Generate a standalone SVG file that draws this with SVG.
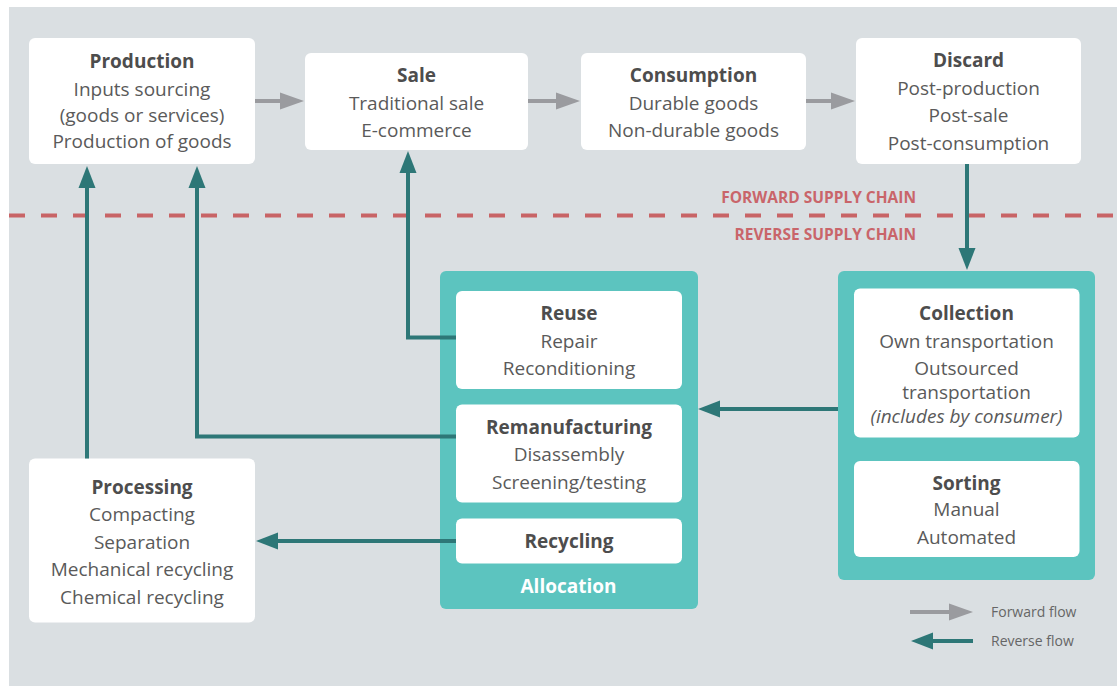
<svg xmlns="http://www.w3.org/2000/svg" width="1117" height="686" viewBox="0 0 1117 686">
<style>
.box{fill:#ffffff}
.panel{fill:#5cc4bf}
.t{font-family:"Open Sans","Liberation Sans",sans-serif;font-size:19px;fill:#5a5a5a;text-anchor:middle}
.b{font-weight:700;fill:#4d4d4d}
.i{font-style:italic}
.w{fill:#ffffff;font-weight:700}
.sc{font-family:"Open Sans","Liberation Sans",sans-serif;font-size:15.5px;font-weight:700;fill:#c9656a;text-anchor:end}
.lg{font-family:"Open Sans","Liberation Sans",sans-serif;font-size:14px;fill:#666666}
.rev{fill:none;stroke:#2d7777;stroke-width:4;marker-end:url(#th)}
.fwd{fill:none;stroke:#9a9b9f;stroke-width:4;marker-end:url(#gh)}
</style>
<defs>
<marker id="th" markerUnits="userSpaceOnUse" markerWidth="22" markerHeight="17" refX="0" refY="8.5" orient="auto" overflow="visible">
<path d="M0,0 L22,8.5 L0,17 Z" fill="#2d7777"/>
</marker>
<marker id="gh" markerUnits="userSpaceOnUse" markerWidth="24" markerHeight="17" refX="0" refY="8.5" orient="auto" overflow="visible">
<path d="M0,0 L24,8.5 L0,17 Z" fill="#9a9b9f"/>
</marker>
</defs>
<rect x="0" y="0" width="1117" height="686" fill="#ffffff"/>
<rect x="9" y="7" width="1108" height="679" fill="#dadfe2"/>
<line x1="9" y1="215.5" x2="1117" y2="215.5" stroke="#c86466" stroke-width="4" stroke-dasharray="16 16"/>
<text class="sc" x="916" y="203">FORWARD SUPPLY CHAIN</text>
<text class="sc" x="916" y="240">REVERSE SUPPLY CHAIN</text>
<g id="production">
<rect class="box" x="29" y="38" width="226" height="126" rx="6"/>
<text class="t b" x="142" y="68">Production</text>
<text class="t" x="142" y="96">Inputs sourcing</text>
<text class="t" x="142" y="121.5">(goods or services)</text>
<text class="t" x="142" y="148">Production of goods</text>
</g>
<g id="sale">
<rect class="box" x="305" y="53" width="223" height="97" rx="6"/>
<text class="t b" x="416.5" y="82">Sale</text>
<text class="t" x="416.5" y="109.5">Traditional sale</text>
<text class="t" x="416.5" y="136.5">E-commerce</text>
</g>
<g id="consumption">
<rect class="box" x="581" y="53" width="225" height="97" rx="6"/>
<text class="t b" x="693.5" y="82">Consumption</text>
<text class="t" x="693.5" y="109.5">Durable goods</text>
<text class="t" x="693.5" y="136.5">Non-durable goods</text>
</g>
<g id="discard">
<rect class="box" x="856" y="38" width="225" height="126" rx="6"/>
<text class="t b" x="968.5" y="67">Discard</text>
<text class="t" x="968.5" y="95">Post-production</text>
<text class="t" x="968.5" y="122">Post-sale</text>
<text class="t" x="968.5" y="150">Post-consumption</text>
</g>
<g id="allocation">
<rect class="panel" x="440" y="271" width="258" height="338" rx="6"/>
<text class="t w" x="568.5" y="593">Allocation</text>
</g>
<g id="reuse">
<rect class="box" x="456" y="291" width="226" height="98" rx="6"/>
<text class="t b" x="569" y="320">Reuse</text>
<text class="t" x="569" y="347.5">Repair</text>
<text class="t" x="569" y="375">Reconditioning</text>
</g>
<g id="remanufacturing">
<rect class="box" x="456" y="404.5" width="226" height="98" rx="6"/>
<text class="t b" x="569" y="433.5">Remanufacturing</text>
<text class="t" x="569" y="461">Disassembly</text>
<text class="t" x="569" y="488.5">Screening/testing</text>
</g>
<g id="recycling">
<rect class="box" x="456" y="518.5" width="226" height="45" rx="6"/>
<text class="t b" x="569" y="547.5">Recycling</text>
</g>
<g id="collection-sorting">
<rect class="panel" x="838" y="271" width="257" height="309" rx="6"/>
</g>
<g id="collection">
<rect class="box" x="854" y="288.5" width="225.5" height="149" rx="6"/>
<text class="t b" x="966.5" y="319.5">Collection</text>
<text class="t" x="966.5" y="347.5">Own transportation</text>
<text class="t" x="966.5" y="374.5">Outsourced</text>
<text class="t" x="966.5" y="398.5">transportation</text>
<text class="t i" x="966.5" y="422.5">(includes by consumer)</text>
</g>
<g id="sorting">
<rect class="box" x="854" y="461" width="225.5" height="96" rx="6"/>
<text class="t b" x="966.5" y="489.5">Sorting</text>
<text class="t" x="966.5" y="516">Manual</text>
<text class="t" x="966.5" y="543.5">Automated</text>
</g>
<g id="processing">
<rect class="box" x="29" y="458.5" width="226" height="164" rx="6"/>
<text class="t b" x="142" y="493.5">Processing</text>
<text class="t" x="142" y="521">Compacting</text>
<text class="t" x="142" y="548.5">Separation</text>
<text class="t" x="142" y="576">Mechanical recycling</text>
<text class="t" x="142" y="603.5">Chemical recycling</text>
</g>
<g id="connectors">
<path class="fwd" d="M255,101 H280"/>
<path class="fwd" d="M528,101 H556"/>
<path class="fwd" d="M806,101 H831"/>
<path class="rev" d="M87,458.5 V188"/>
<path class="rev" d="M456,436.5 H197 V188"/>
<path class="rev" d="M456,337.5 H408 V173"/>
<path class="rev" d="M967,164 V248"/>
<path class="rev" d="M838,409 H720"/>
<path class="rev" d="M456,541 H278"/>
</g>
<g id="legend">
<path class="fwd" d="M910,612 H949"/>
<path class="rev" d="M973,641 H933"/>
<text class="lg" x="991" y="617">Forward flow</text>
<text class="lg" x="991" y="646">Reverse flow</text>
</g>
</svg>
